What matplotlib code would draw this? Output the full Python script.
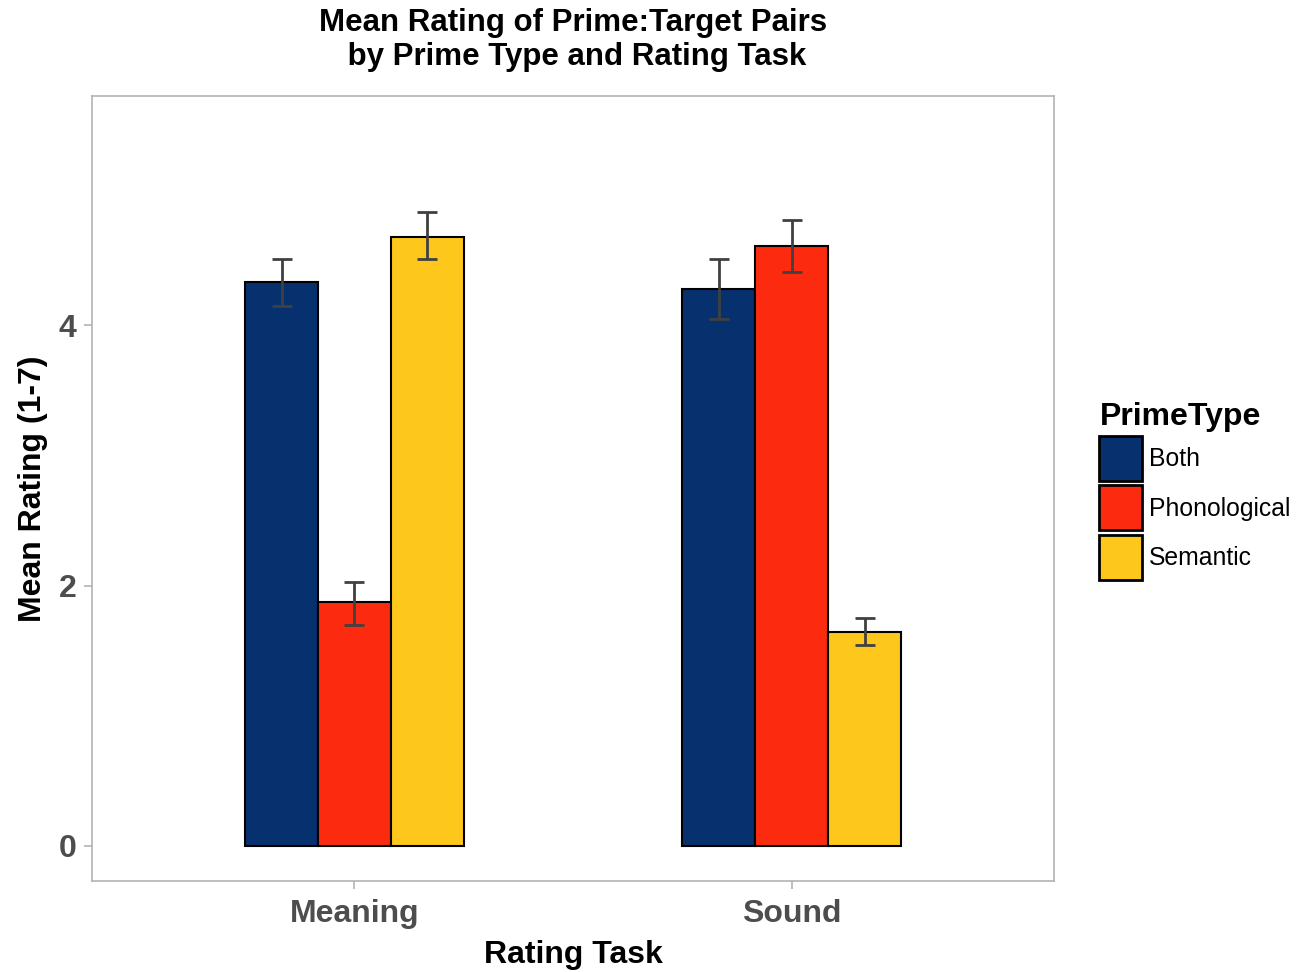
import numpy as np
import matplotlib
matplotlib.use('Agg')
import matplotlib.pyplot as plt

plt.rcParams['font.family'] = ['Liberation Sans', 'DejaVu Sans']

# data
tasks = ['Meaning', 'Sound']
prime_types = ['Both', 'Phonological', 'Semantic']
means = {
    'Both':         [4.33, 4.28],
    'Phonological': [1.87, 4.61],
    'Semantic':     [4.68, 1.64],
}
err_lo = {
    'Both':         [4.15, 4.05],
    'Phonological': [1.70, 4.41],
    'Semantic':     [4.51, 1.54],
}
err_hi = {
    'Both':         [4.51, 4.51],
    'Phonological': [2.03, 4.81],
    'Semantic':     [4.87, 1.75],
}
colors = ['#06306e', '#fc2b10', '#fdc71c']

fig = plt.figure(figsize=(13.09, 9.72), dpi=100)
ax = fig.add_axes([0.0703, 0.0936, 0.735, 0.8076])

x = np.arange(1, len(tasks) + 1)
width = 0.5 / 3
for i, pt in enumerate(prime_types):
    xpos = x + (i - 1) * width
    m = np.array(means[pt])
    ax.bar(xpos, m, width=width, color=colors[i], edgecolor='black',
           linewidth=1.5, label=pt, zorder=2)
    lo = m - np.array(err_lo[pt])
    hi = np.array(err_hi[pt]) - m
    ax.errorbar(xpos, m, yerr=[lo, hi], fmt='none', ecolor='#404040',
                elinewidth=2, capsize=7.5, capthick=2, zorder=3)

ax.set_xlim(0.4, 2.6)
ax.set_ylim(-0.27, 5.76)
ax.set_xticks(x)
ax.set_xticklabels(tasks)
ax.set_yticks([0, 2, 4])
ax.tick_params(axis='both', colors='#b3b3b3', length=6, width=1.2,
               labelcolor='#4d4d4d', labelsize=23)
ax.tick_params(axis='x', pad=7)
ax.tick_params(axis='y', pad=5)
for lab in ax.get_xticklabels() + ax.get_yticklabels():
    lab.set_fontweight('bold')
for s in ax.spines.values():
    s.set_color('#b3b3b3')
    s.set_linewidth(1.2)

ax.set_xlabel('Rating Task', fontsize=23, fontweight='bold', labelpad=8)
ax.set_ylabel('Mean Rating (1-7)', fontsize=23, fontweight='bold', labelpad=8)
ax.set_title('Mean Rating of Prime:Target Pairs\n by Prime Type and Rating Task',
             fontsize=22.5, fontweight='bold', pad=22, linespacing=1.2)

leg = ax.legend(loc='upper left', bbox_to_anchor=(0.8305, 0.599),
                bbox_transform=fig.transFigure, frameon=False, borderpad=0,
                fontsize=17.8, title='PrimeType', handlelength=1.7,
                handleheight=2.42, labelspacing=0.17, handletextpad=0.3,
                alignment='left')
leg.get_title().set_fontsize(23)
leg.get_title().set_fontweight('bold')
for h in leg.get_patches():
    h.set_linewidth(2)

fig.savefig('out.png', dpi=100)
